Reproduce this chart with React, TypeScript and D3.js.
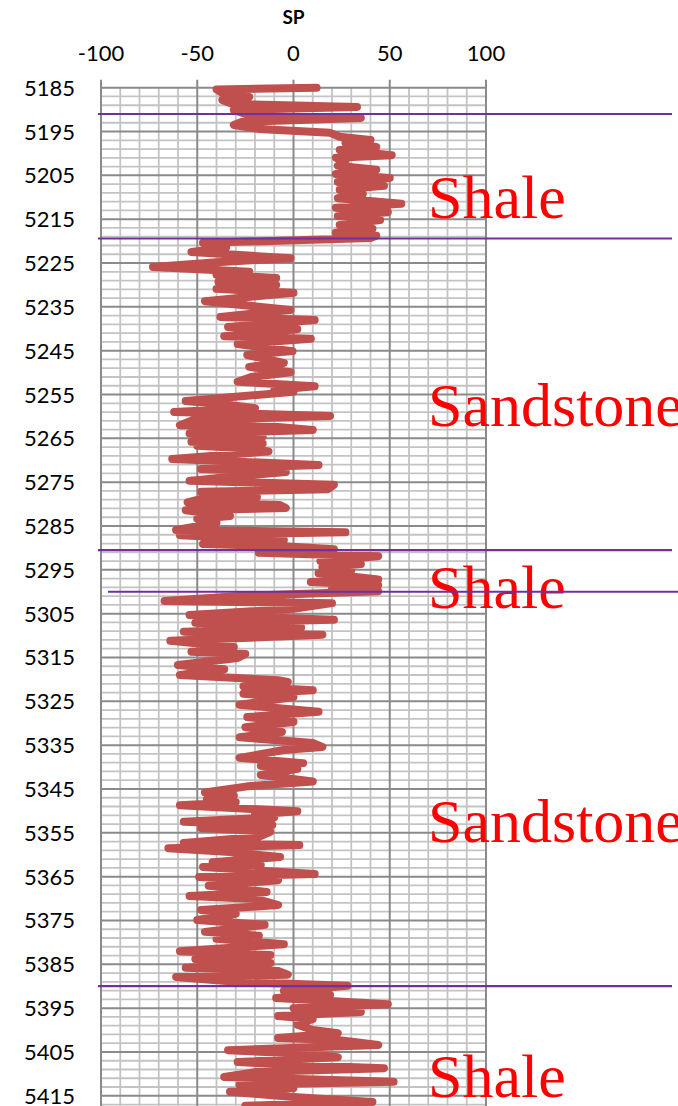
import React from "react";
import * as d3 from "d3";

const depths: number[] = [
  5185.0, 5185.4, 5186.2, 5187.1, 5187.8, 5188.7, 5189.4, 5190.1, 5191.0, 5191.9,
  5192.8, 5193.5, 5194.4, 5195.3, 5196.2, 5196.9, 5197.6, 5198.5, 5199.2, 5200.4,
  5201.0, 5201.9, 5202.8, 5203.7, 5204.7, 5205.6, 5206.5, 5207.4, 5208.3, 5209.3,
  5210.2, 5211.5, 5212.4, 5213.4, 5214.3, 5215.2, 5216.3, 5217.2, 5218.1, 5218.8,
  5219.3, 5220.4, 5221.5, 5222.5, 5223.0, 5223.9, 5224.8, 5225.9, 5227.0, 5227.7,
  5228.4, 5229.3, 5230.0, 5230.9, 5231.8, 5233.7, 5235.7, 5237.3, 5238.0, 5239.6,
  5240.1, 5241.7, 5242.3, 5243.5, 5245.1, 5246.0, 5247.8, 5248.7, 5249.9, 5251.0,
  5252.1, 5253.1, 5254.0, 5254.4, 5256.5, 5257.4, 5258.1, 5259.0, 5259.5, 5259.9,
  5260.8, 5262.0, 5262.4, 5263.1, 5263.9, 5264.6, 5265.8, 5266.2, 5266.7, 5267.3,
  5268.0, 5269.7, 5271.1, 5272.0, 5272.7, 5273.8, 5274.7, 5275.6, 5276.6, 5277.2,
  5278.4, 5278.8, 5279.6, 5280.2, 5280.9, 5281.4, 5282.7, 5283.4, 5284.3, 5285.9,
  5286.4, 5287.1, 5288.2, 5289.1, 5289.6, 5290.3, 5291.1, 5291.9, 5293.0, 5293.7,
  5294.4, 5295.1, 5295.8, 5296.5, 5297.2, 5297.8, 5298.5, 5299.2, 5299.9, 5301.0,
  5302.1, 5302.6, 5303.9, 5305.3, 5306.4, 5307.1, 5308.2, 5309.1, 5309.8, 5311.2,
  5312.6, 5313.7, 5314.2, 5315.1, 5316.7, 5317.7, 5319.0, 5320.2, 5320.6, 5321.6,
  5322.5, 5323.3, 5324.0, 5325.8, 5327.4, 5328.6, 5329.7, 5330.9, 5332.0, 5333.2,
  5334.5, 5335.4, 5336.1, 5337.9, 5339.1, 5339.7, 5340.4, 5341.8, 5343.3, 5344.4,
  5345.8, 5346.5, 5347.4, 5348.0, 5348.7, 5350.1, 5350.8, 5351.5, 5352.5, 5353.2,
  5353.9, 5354.8, 5355.9, 5357.3, 5357.8, 5358.5, 5359.4, 5360.5, 5361.7, 5362.4,
  5362.8, 5364.4, 5365.1, 5365.8, 5367.1, 5368.5, 5369.4, 5370.1, 5371.5, 5372.6,
  5373.5, 5374.9, 5376.0, 5377.6, 5378.5, 5379.2, 5380.4, 5382.0, 5382.9, 5383.8,
  5384.7, 5385.8, 5386.5, 5387.4, 5387.9, 5389.0, 5389.9, 5391.1, 5392.0, 5392.7,
  5394.1, 5395.0, 5395.9, 5396.8, 5397.5, 5398.8, 5400.0, 5400.7, 5401.8, 5402.3,
  5403.4, 5404.6, 5405.5, 5406.2, 5407.3, 5408.0, 5408.7, 5409.6, 5410.7, 5411.8,
  5412.5, 5413.2, 5414.1, 5415.3, 5416.4, 5417.3, 5418.2,
];

const spValues: number[] = [
  12, -40, -37, -23, -37, -32, 33, -31, -25, 35,
  -27, -31, -18, 19, 24, 40, 27, 43, 24, 51,
  22, 27, 23, 43, 22, 50, 23, 47, 24, 36,
  23, 56, 22, 49, 23, 45, 24, 41, 22, 43,
  40, -47, -35, -53, -34, -1.5, -40, -73, -23, -40,
  -9, -39, -9, -40, 0, -46, -1.5, -38, 11, -34,
  2, -36, 9, -29, -0.5, -24, -5, -23, -1.5, -22,
  -29, 11, -10, 0, -56, -33, -20, -62, -12, 19,
  -52, -59, -8, 10, -54, -16, -53, -16, -50, -23,
  -13, -63, 13, -48, -4, -34, -54, 21, 18, -48,
  -19, -48, -55, -7, -4, -56, -33, -50, -40, -61,
  27, -59, -5, -47, -5, 21, -18, 44, 14, 35,
  15, 30, 13, 30, 44, 9, 44, 20, 44, -30,
  -67, 20, 0, -54, 21, -51, 4, -57, 15, -64,
  -31, -53, -25, -29, -60, -36, -59, -8, -3, -26,
  10, -26, 0, -28, 13, -24, 0, -25, -6, -28,
  10, 15, -5, -28, 5, -17, 2, -17, 10, -24,
  -46, -31, -45, -30, -59, 2, -20, -10, -57, -11,
  -48, -12, -18, -57, 3, -65, -33, -7, -42, -17,
  -47, 11, -49, -8, -44, -14, -54, -19, -8, -48,
  -30, -50, -15, -46, -18, -40, -5, -59, -12, -51,
  -12, -56, -8, -3, -61, -30, 28, -5, 19, -9,
  49, 0, 35, -8, 10, 2, 10, 23, -8, 24,
  44, -34, 10, 23, -29, 0, 47, -20, -36, 52,
  -28, 0, -33, 0, 41, -25, 30,
];

const xTicks: number[] = [-100, -50, 0, 50, 100];
const depthTicks: number[] = [5185, 5195, 5205, 5215, 5225, 5235, 5245, 5255, 5265, 5275, 5285, 5295, 5305, 5315, 5325, 5335, 5345, 5355, 5365, 5375, 5385, 5395, 5405, 5415];
const boundaries: number[] = [5191, 5219.4, 5290.5, 5300, 5390];
const lithology: string[] = ["Shale", "Sandstone", "Shale", "Sandstone", "Shale"];
const lithologyDepths: number[] = [5214.7, 5262.2, 5303.6, 5357.2, 5415.2];

const boundaryExtents = [
  [98, 672],
  [98, 672],
  [98, 672],
  [108, 678],
  [98, 672],
];

export default function App() {
  const W = 678;
  const H = 1106;
  const x = d3.scaleLinear().domain([-100, 100]).range([101, 486]);
  const y = d3.scaleLinear().domain([5185, 5425]).range([87.7, 87.7 + 240 * 4.383]);

  const data = depths.map((d, i) => ({ d, v: spValues[i] }));
  const line = d3
    .line<{ d: number; v: number }>()
    .x((p) => x(p.v))
    .y((p) => y(p.d));

  const hGrid = d3.range(5185, 5426, 2);
  const vGrid = d3.range(-100, 101, 10);
  const labelFont = "Lato, 'Open Sans', sans-serif";

  return (
    <svg
      width={W}
      height={H}
      style={{ position: "absolute", left: 0, top: 0, background: "#fff" }}
    >
      <rect x={0} y={0} width={W} height={H} fill="#fff" />
      {/* minor grid */}
      {hGrid
        .filter((d) => (d - 5185) % 10 !== 0)
        .map((d) => (
          <line key={"h" + d} x1={x(-100)} x2={x(100)} y1={y(d)} y2={y(d)} stroke="#c3c3c3" strokeWidth={1.8} />
        ))}
      {vGrid
        .filter((v) => v % 50 !== 0)
        .map((v) => (
          <line key={"v" + v} x1={x(v)} x2={x(v)} y1={y(5185)} y2={H} stroke="#c3c3c3" strokeWidth={1.8} />
        ))}
      {/* major grid */}
      {hGrid
        .filter((d) => (d - 5185) % 10 === 0)
        .map((d) => (
          <line key={"H" + d} x1={x(-100)} x2={x(100)} y1={y(d)} y2={y(d)} stroke="#8a8a8a" strokeWidth={2} />
        ))}
      {xTicks.map((v) => (
        <line key={"V" + v} x1={x(v)} x2={x(v)} y1={y(5185) - 8} y2={H} stroke="#8a8a8a" strokeWidth={2} />
      ))}

      {/* axis labels */}
      <text x={x(0)} y={24} textAnchor="middle" fontFamily={labelFont} fontWeight="bold" fontSize={19} fill="#000">
        SP
      </text>
      {xTicks.map((v) => (
        <text key={"xt" + v} x={x(v)} y={61} textAnchor="middle" fontFamily={labelFont} fontSize={22} fill="#000">
          {v}
        </text>
      ))}
      {depthTicks.map((d) => (
        <text key={"yt" + d} x={75} y={y(d) + 8} textAnchor="end" fontFamily={labelFont} fontSize={22} fill="#000">
          {d}
        </text>
      ))}

      {/* lithology labels */}
      {lithology.map((t, i) => (
        <text
          key={"l" + i}
          x={428}
          y={y(lithologyDepths[i])}
          fontFamily="'Liberation Serif', 'Times New Roman', serif"
          fontSize={62}
          fill="#ff0000"
        >
          {t}
        </text>
      ))}

      {/* SP curve */}
      <path
        d={line(data) || ""}
        fill="none"
        stroke="#C0504D"
        strokeWidth={8}
        strokeLinejoin="round"
        strokeLinecap="round"
      />

      {/* boundaries */}
      {boundaries.map((b, i) => (
        <line
          key={"b" + i}
          x1={boundaryExtents[i][0]}
          x2={boundaryExtents[i][1]}
          y1={y(b)}
          y2={y(b)}
          stroke="#7030A0"
          strokeWidth={2.2}
        />
      ))}
    </svg>
  );
}
